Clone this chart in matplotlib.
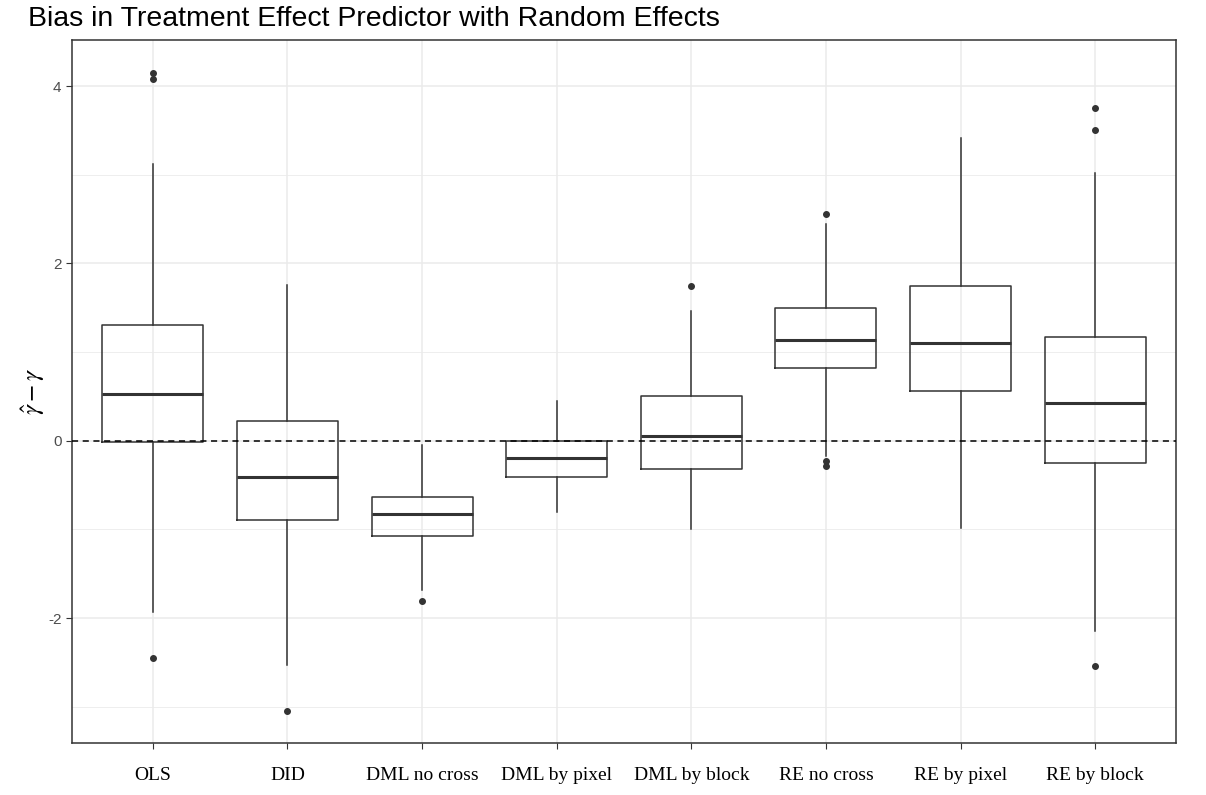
import numpy as np
import matplotlib
matplotlib.use("Agg")
import matplotlib.pyplot as plt
from matplotlib.ticker import MultipleLocator

plt.rcParams["axes.unicode_minus"] = False
plt.rcParams["mathtext.fontset"] = "stix"

# metodos y estadisticos de cada caja
metodos = ["OLS", "DID", "DML no cross", "DML by pixel", "DML by block",
           "RE no cross", "RE by pixel", "RE by block"]
q1 = [-0.01, -0.89, -1.08, -0.41, -0.32, 0.82, 0.56, -0.25]
mediana = [0.53, -0.41, -0.83, -0.20, 0.05, 1.14, 1.10, 0.42]
q3 = [1.31, 0.22, -0.64, 0.00, 0.50, 1.50, 1.75, 1.17]
bigote_inf = [-1.93, -2.53, -1.68, -0.80, -1.00, -0.17, -0.99, -2.15]
bigote_sup = [3.12, 1.76, -0.05, 0.45, 1.46, 2.45, 3.41, 3.02]
atipicos = [[4.15, 4.08, -2.45], [-3.05], [-1.81], [], [1.74],
            [2.56, -0.23, -0.29], [], [3.75, 3.50, -2.54]]

stats = []
for i in range(len(metodos)):
    stats.append(dict(med=mediana[i], q1=q1[i], q3=q3[i],
                      whislo=bigote_inf[i], whishi=bigote_sup[i],
                      fliers=atipicos[i], label=metodos[i]))

fig = plt.figure(figsize=(12.06, 7.95), dpi=100)
ax = fig.add_axes([72/1206, 1-743/795, (1176-72)/1206, (743-40)/795])

gris = "#333333"
ax.bxp(stats, positions=np.arange(1, 9), widths=0.75, showcaps=False,
       boxprops=dict(color=gris, linewidth=1.1),
       whiskerprops=dict(color=gris, linewidth=1.1),
       medianprops=dict(color=gris, linewidth=2.2),
       flierprops=dict(marker="o", markerfacecolor=gris, markeredgecolor=gris,
                       markersize=4, linestyle="none"),
       zorder=3)

ax.axhline(0, color="black", linestyle=(0, (4, 3)), linewidth=1.1, zorder=4)

ax.set_xlim(0.4, 8.6)
ax.set_ylim(-3.41, 4.52)
ax.yaxis.set_major_locator(MultipleLocator(2))
ax.yaxis.set_minor_locator(MultipleLocator(1))
ax.grid(True, which="major", color="#EBEBEB", linewidth=1.1, zorder=0)
ax.grid(True, which="minor", axis="y", color="#EBEBEB", linewidth=0.6, zorder=0)
ax.set_axisbelow(True)

ax.set_xticks(np.arange(1, 9))
ax.set_xticklabels(metodos, family="Liberation Serif", fontsize=14, color="black")
ax.tick_params(axis="x", which="major", pad=13, length=4, color=gris)
ax.tick_params(axis="y", which="major", length=4, color=gris, labelcolor="#4D4D4D",
               labelsize=11)
ax.tick_params(axis="y", which="minor", length=0)
for lab in ax.get_yticklabels():
    lab.set_family("Liberation Sans")

for s in ax.spines.values():
    s.set_color(gris)
    s.set_linewidth(1.1)

ax.set_ylabel(r"$\hat{\gamma} - \gamma$", fontsize=18, labelpad=1)

fig.text(28/1206, 1-19/795, "Bias in Treatment Effect Predictor with Random Effects",
         family="Liberation Sans", fontsize=20.5, ha="left", va="center")

fig.savefig("out.png", dpi=100)
